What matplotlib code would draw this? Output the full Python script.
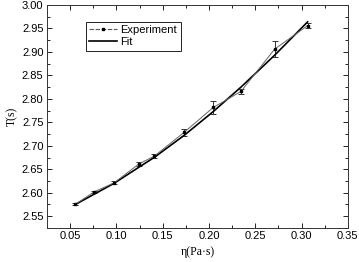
import numpy as np
import matplotlib.pyplot as plt
from matplotlib.ticker import MultipleLocator
from matplotlib.lines import Line2D

# experiment data
eta = [0.0556, 0.076, 0.0974, 0.1247, 0.1406, 0.173, 0.2046, 0.2345, 0.2709, 0.3065]
T_exp = [2.5755, 2.602, 2.621, 2.662, 2.6775, 2.7285, 2.7817, 2.8157, 2.906, 2.956]
T_err = [0.002, 0.002, 0.003, 0.004, 0.004, 0.008, 0.014, 0.006, 0.0165, 0.005]

# fit curve values at the same eta
T_fit = [2.575, 2.597, 2.620, 2.655, 2.675, 2.722, 2.773, 2.825, 2.893, 2.964]

plt.rcParams['font.family'] = ['Liberation Sans', 'DejaVu Sans']

fig = plt.figure(figsize=(3.59, 2.62), dpi=100)
ax = fig.add_axes([0.131, 0.130, 0.838, 0.851])

ax.errorbar(eta, T_exp, yerr=T_err, color='#666666', lw=0.7,
            marker='s', ms=2, mfc='black', mec='black', ecolor='#333333',
            elinewidth=0.7, capsize=2.5, capthick=0.7)
ax.plot(eta, T_fit, color='black', lw=1.2)

ax.set_xlim(0.025, 0.35)
ax.set_ylim(2.525, 3.00)
ax.xaxis.set_minor_locator(MultipleLocator(0.025))
ax.yaxis.set_minor_locator(MultipleLocator(0.025))
ax.set_xticks(np.arange(0.05, 0.351, 0.05))
ax.set_xticklabels(['%.2f' % v for v in np.arange(0.05, 0.351, 0.05)])
ax.set_yticks(np.arange(2.55, 3.001, 0.05))
ax.set_yticklabels(['%.2f' % v for v in np.arange(2.55, 3.001, 0.05)])

ax.tick_params(which='both', direction='in', top=True, right=True, labelsize=8, width=0.6, pad=2.5)
ax.tick_params(which='major', length=3.5)
ax.tick_params(which='minor', length=2)
for s in ax.spines.values():
    s.set_linewidth(0.7)
    s.set_color('#333333')

ax.set_xlabel('η(Pa·s)', family=['Liberation Serif', 'DejaVu Serif'], fontsize=8.5, labelpad=3)
ax.set_ylabel('T(s)', family=['Liberation Serif', 'DejaVu Serif'], fontsize=8.5, labelpad=3)

handles = [Line2D([], [], color='#555555', lw=0.8, ls=(0, (4, 1.5)), marker='s', ms=2,
                  mfc='black', mec='black'),
           Line2D([], [], color='black', lw=1.2)]
leg = ax.legend(handles, ['Experiment', 'Fit'], loc='upper left', bbox_to_anchor=(0.13, 0.925),
                fontsize=8, fancybox=False, edgecolor='black', framealpha=1, borderpad=0.3,
                handlelength=2.5, handletextpad=0.3, labelspacing=0.2, borderaxespad=0)
leg.get_frame().set_linewidth(0.6)

plt.savefig('out.png', dpi=100)
